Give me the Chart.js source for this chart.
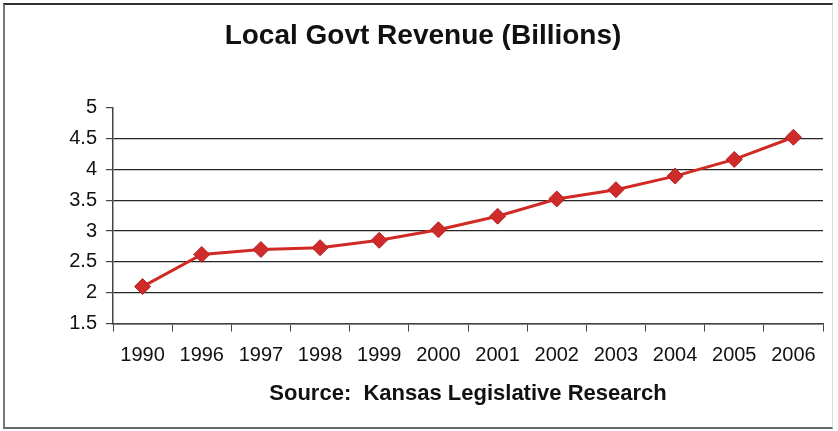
<!DOCTYPE html>
<html lang="en">
<head>
<meta charset="utf-8">
<title>Local Govt Revenue (Billions)</title>
<script src="https://cdn.jsdelivr.net/npm/chart.js@4.4.1/dist/chart.umd.min.js"></script>
<style>
    html, body { margin: 0; padding: 0; background: #fff; }
    .wrap { position: relative; width: 838px; height: 431px; }
    .frame {
        position: absolute;
        left: 3px; top: 3px; width: 830px; height: 426px;
        box-sizing: border-box;
        border-left: 2px solid #777;
        border-top: 2px solid #333;
        border-right: 1px solid #ddd;
        border-bottom: 2px solid #666;
        pointer-events: none;
    }
</style>
</head>
<body>
<div class="wrap">
    <canvas id="grafico_receita" width="838" height="431"></canvas>
    <div class="frame"></div>
</div>
<script>
const anos = ['1990', '1996', '1997', '1998', '1999', '2000', '2001', '2002', '2003', '2004', '2005', '2006'];
const receita = [2.10, 2.62, 2.70, 2.73, 2.85, 3.02, 3.24, 3.52, 3.67, 3.89, 4.16, 4.52];
const eixoY = { min: 1.5, max: 5, passo: 0.5 };

const titulo = 'Local Govt Revenue (Billions)';
const fonte = 'Source:  Kansas Legislative Research';

const FONT = "'Liberation Sans', Arial, sans-serif";
const COR_LINHA = '#d12a25';
const COR_GRADE = '#262626';

function inicializarGrafico() {
    const ctx = document.getElementById('grafico_receita').getContext('2d');
    return new Chart(ctx, {
        type: 'line',
        data: {
            labels: anos,
            datasets: [{
                data: receita,
                borderColor: COR_LINHA,
                borderWidth: 3,
                tension: 0,
                pointStyle: 'rectRot',
                pointRadius: 8,
                pointBackgroundColor: '#cf2b2b',
                pointBorderColor: '#b52222',
                pointBorderWidth: 1,
                fill: false
            }]
        },
        options: {
            responsive: false,
            animation: false,
            layout: { padding: { left: 23, right: 15, top: 0, bottom: 0 } },
            plugins: {
                legend: { display: false },
                tooltip: { enabled: false },
                title: {
                    display: true,
                    text: titulo,
                    color: '#111',
                    font: { family: FONT, size: 28, weight: 'bold' },
                    padding: { top: 19, bottom: 55 }
                }
            },
            scales: {
                x: {
                    offset: true,
                    border: { display: true, color: '#444', width: 1.5 },
                    grid: {
                        offset: true,
                        drawOnChartArea: false,
                        drawTicks: true,
                        tickLength: 8,
                        tickColor: '#444'
                    },
                    ticks: {
                        color: '#111',
                        font: { family: FONT, size: 20 },
                        padding: 12,
                        maxRotation: 0,
                        autoSkip: false
                    },
                    title: {
                        display: true,
                        text: fonte,
                        color: '#111',
                        font: { family: FONT, size: 22, weight: 'bold' },
                        padding: { top: 1, bottom: 24 }
                    }
                },
                y: {
                    min: eixoY.min,
                    max: eixoY.max,
                    border: { display: true, color: '#444', width: 1.5 },
                    grid: {
                        // no line across the top value, only its tick
                        color: c => (c.tick && c.tick.value === eixoY.max) ? 'rgba(0,0,0,0)' : COR_GRADE,
                        tickColor: '#444',
                        tickLength: 7,
                        lineWidth: 1.2
                    },
                    ticks: {
                        stepSize: eixoY.passo,
                        color: '#111',
                        font: { family: FONT, size: 20 },
                        padding: 9,
                        callback: v => String(v)
                    },
                    afterFit: scale => { scale.width = 90; }
                }
            }
        }
    });
}

document.addEventListener('DOMContentLoaded', () => {
    inicializarGrafico();
});
</script>
</body>
</html>
